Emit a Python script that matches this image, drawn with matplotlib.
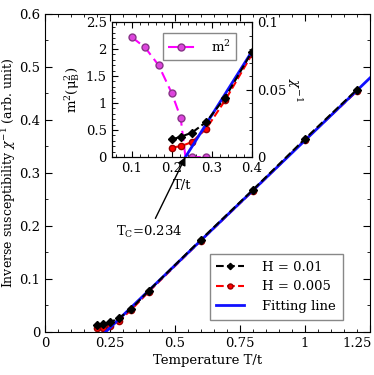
import numpy as np
import matplotlib
matplotlib.use('Agg')
import matplotlib.pyplot as plt
from matplotlib.ticker import MultipleLocator, FuncFormatter
from matplotlib.transforms import ScaledTranslation

plt.rcParams['font.family'] = ['DejaVu Serif']
plt.rcParams['mathtext.fontset'] = 'dejavuserif'
plt.rcParams['xtick.direction'] = 'in'
plt.rcParams['ytick.direction'] = 'in'

# inverse susceptibility data
temps = [0.2, 0.222, 0.25, 0.286, 0.333, 0.4, 0.6, 0.8, 1.0, 1.2]
chi_h01 = [0.013, 0.015, 0.018, 0.026, 0.044, 0.078, 0.174, 0.268, 0.364, 0.457]
chi_h005 = [0.007, 0.008, 0.011, 0.021, 0.042, 0.076, 0.172, 0.266, 0.362, 0.454]

# linear fit, from Tc up
fit_t = [0.234, 1.25]
fit_chi = [0.0, 0.479]

# order parameter
m2_t = [0.1, 0.133, 0.167, 0.2, 0.222, 0.234, 0.25, 0.286]
m2 = [2.22, 2.03, 1.70, 1.18, 0.73, 0.0, 0.0, 0.0]
m2_marks = [0, 1, 2, 3, 4, 6, 7]

tc = 0.234

fs = 9.5
fmt = FuncFormatter(lambda v, p: '%g' % v)

fig = plt.figure(figsize=(3.74, 3.75), dpi=100)
ax = fig.add_axes([0.120, 0.115, 0.869, 0.848])

ax.plot(temps, chi_h005, '--', color='red', lw=1.5, marker='o', ms=4.5,
        mfc='red', mec='#990000', label='H = 0.005', zorder=2)
ax.plot(fit_t, fit_chi, '-', color='#1010ff', lw=2, label='Fitting line', zorder=3)
ax.plot(temps, chi_h01, '--', color='black', lw=1.5, marker='D', ms=4,
        label='H = 0.01', zorder=4)

ax.set_xlim(0, 1.25)
ax.set_ylim(0, 0.6)
ax.xaxis.set_major_locator(MultipleLocator(0.25))
ax.xaxis.set_minor_locator(MultipleLocator(0.05))
ax.yaxis.set_major_locator(MultipleLocator(0.1))
ax.yaxis.set_minor_locator(MultipleLocator(0.05))
ax.xaxis.set_major_formatter(fmt)
ax.yaxis.set_major_formatter(fmt)
ax.tick_params(which='both', top=True, right=True, labelsize=fs)
ax.tick_params(which='major', length=5)
ax.tick_params(which='minor', length=2.5)
ax.set_xlabel('Temperature T/t', fontsize=fs, labelpad=3)
ax.set_ylabel(r'Inverse susceptibility $\chi^{-1}$ (arb. unit)', fontsize=9,
              labelpad=1)

handles, labels = ax.get_legend_handles_labels()
order = [2, 0, 1]
leg = ax.legend([handles[i] for i in order], [labels[i] for i in order],
                loc='lower right', bbox_to_anchor=(0.937, 0.018), fontsize=fs,
                fancybox=False, edgecolor='#888888', framealpha=1,
                handlelength=2.1, markerscale=0.8, labelspacing=0.5,
                borderpad=0.5, handletextpad=1.4)

# inset
axin = fig.add_axes([0.2987, 0.5813, 0.375, 0.36])
axin.plot(m2_t, m2, '--', color='#ff00ff', lw=1.5, dashes=(5, 2.5), marker='o',
          ms=5, mfc='#dd44dd', mec='#883388', markevery=m2_marks, label='m$^2$')
axin.set_xlim(0.05, 0.4)
axin.set_ylim(0, 2.5)
axin.xaxis.set_major_locator(MultipleLocator(0.1))
axin.xaxis.set_minor_locator(MultipleLocator(0.02))
axin.yaxis.set_major_locator(MultipleLocator(0.5))
axin.yaxis.set_minor_locator(MultipleLocator(0.1))
axin.xaxis.set_major_formatter(fmt)
axin.yaxis.set_major_formatter(fmt)
axin.tick_params(which='both', top=True, labelsize=fs)
axin.tick_params(which='major', length=4)
axin.tick_params(which='minor', length=2)
axin.set_xlabel('T/t', fontsize=fs, labelpad=3)
axin.set_ylabel('m$^2$(μ$_\\mathrm{B}^2$)', fontsize=fs, labelpad=3)
axin.legend(loc='upper right', bbox_to_anchor=(0.93, 0.965), fontsize=fs,
            fancybox=False, edgecolor='#888888', framealpha=1,
            handlelength=2.0, borderpad=0.4, handletextpad=1.2)

axin2 = axin.twinx()
axin2.plot(temps, chi_h005, '--', color='red', lw=1.5, marker='o', ms=4.5,
           mfc='red', mec='#990000', zorder=2)
axin2.plot(fit_t, fit_chi, '-', color='#1010ff', lw=2, zorder=3)
axin2.plot(temps, chi_h01, '--', color='black', lw=1.5, marker='D', ms=4, zorder=4)
axin2.set_ylim(0, 0.1)
axin2.yaxis.set_major_locator(MultipleLocator(0.05))
axin2.yaxis.set_minor_locator(MultipleLocator(0.01))
axin2.yaxis.set_major_formatter(fmt)
axin2.tick_params(which='both', direction='in', labelsize=fs)
axin2.tick_params(which='major', length=4)
axin2.tick_params(which='minor', length=2)
axin2.set_ylabel(r'$\chi^{-1}$', fontsize=fs, rotation=270, labelpad=13)

axin2.annotate(r'T$_\mathrm{C}$=0.234', xy=(tc, 0), xycoords='data',
               xytext=(0.40, 0.189), textcoords=ax.transData,
               ha='center', va='center', fontsize=fs, annotation_clip=False,
               arrowprops=dict(arrowstyle='-|>', color='black', lw=1,
                               shrinkA=2, shrinkB=0, mutation_scale=12),
               zorder=10)

# keep the 1.25 label inside the figure
fig.canvas.draw()
for tick, loc in zip(ax.xaxis.get_major_ticks(), ax.xaxis.get_majorticklocs()):
    if abs(loc - 1.25) < 1e-6:
        lab = tick.label1
        lab.set_transform(lab.get_transform() +
                          ScaledTranslation(-0.13, 0, fig.dpi_scale_trans))

fig.savefig('out.png', dpi=100)
